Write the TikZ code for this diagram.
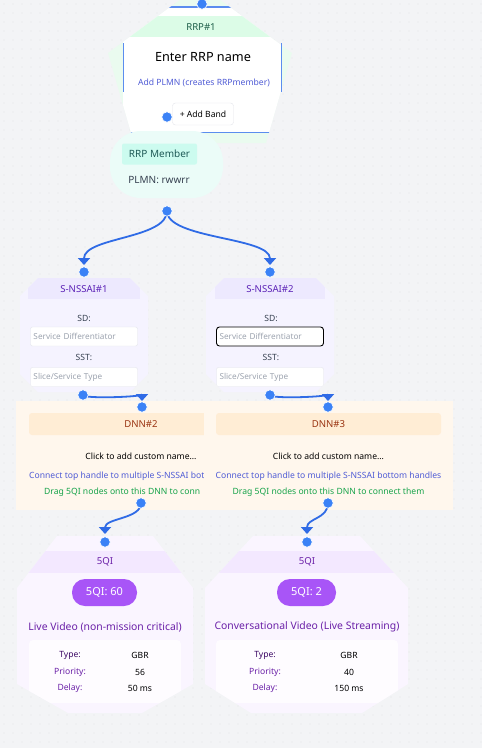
\documentclass[tikz,border=0pt]{standalone}
\usepackage{fontspec}
\setmainfont{Noto Sans}
\usetikzlibrary{arrows.meta}

\definecolor{bgcol}{HTML}{F3F4F6}
\definecolor{dotcol}{HTML}{E2E4E9}
\definecolor{edgeblue}{HTML}{2F6BE6}
\definecolor{handleblue}{HTML}{3B82F6}
\definecolor{rrpout}{HTML}{EAFBEF}
\definecolor{rrphead}{HTML}{DCFCE7}
\definecolor{rrptext}{HTML}{1F5F4A}
\definecolor{cardblue}{HTML}{5B8DEF}
\definecolor{linkblue}{HTML}{4F5BD5}
\definecolor{memberbg}{HTML}{EBFCF8}
\definecolor{memberhead}{HTML}{CCFBEF}
\definecolor{membertext}{HTML}{1E5A57}
\definecolor{graytext}{HTML}{374151}
\definecolor{nssaibg}{HTML}{F5F3FF}
\definecolor{nssaihead}{HTML}{EDE9FE}
\definecolor{nssaitext}{HTML}{5B21B6}
\definecolor{inputline}{HTML}{E3E5EA}
\definecolor{placeholder}{HTML}{9CA3AF}
\definecolor{dnnbg}{HTML}{FFF7ED}
\definecolor{dnnhead}{HTML}{FFEDD5}
\definecolor{dnntext}{HTML}{9A3412}
\definecolor{dragtext}{HTML}{16A34A}
\definecolor{fqibg}{HTML}{FAF5FF}
\definecolor{fqihead}{HTML}{F3E8FF}
\definecolor{fqipill}{HTML}{A855F7}
\definecolor{fqitext}{HTML}{6B21A8}
\definecolor{fqicard}{HTML}{FEFCFF}
\definecolor{typetext}{HTML}{3B0764}

\tikzset{
  fsmall/.style={font=\fontsize{8.6}{10}\selectfont},
  fnorm/.style={font=\fontsize{10}{12}\selectfont},
  fhead/.style={font=\fontsize{9.6}{11}\selectfont},
  ftitle/.style={font=\fontsize{10.4}{12}\selectfont},
  handle/.style={circle, fill=handleblue, draw=white, line width=0.7pt, inner sep=0pt, minimum size=10.5pt},
  edge/.style={draw=edgeblue, line width=1.8pt, -{Triangle[width=12pt,length=7pt]}},
  inputbox/.style={draw=inputline, fill=white, rounded corners=2pt, minimum height=19pt,
    text width=101pt, inner xsep=3pt, align=left, text=placeholder, font=\fontsize{8.2}{10}\selectfont},
}

\begin{document}
\begin{tikzpicture}[x=1pt, y=-1pt]
    \useasboundingbox (0,0) rectangle (482,748);
    \clip (0,0) rectangle (482,748);

    % background with dot grid
    \fill[bgcol] (0,0) rectangle (482,748);
    \foreach \x in {4,13,...,482}
        \foreach \y in {4,13,...,748}
            \fill[dotcol] (\x,\y) circle (0.6);

    % RRP#1 pentagon
    \fill[rrpout] (200,-15) -- (292,53) -- (266,143) -- (134,143) -- (108,53) -- cycle;
    \begin{scope}
        \clip (200,-15) -- (292,53) -- (266,143) -- (134,143) -- (108,53) -- cycle;
        \fill[white] (123,7) rectangle (282,133);
        \fill[rrphead] (123,16) rectangle (282,37);
        \draw[cardblue, line width=1.5pt] (123,7) -- (282,7);
        \draw[cardblue, line width=1.5pt] (123,132.5) -- (282,132.5);
    \end{scope}
    \draw[cardblue, line width=1.5pt] (123.5,43) -- (123.5,92);
    \draw[cardblue, line width=1.5pt] (281.5,43) -- (281.5,92);
    \node[rrptext, fhead] (rrp) at (201,27) {RRP\#1};
    \node[font=\fontsize{12.7}{15}\selectfont] (rrpname) at (203,57) {Enter RRP name};
    \node[linkblue, fsmall] (plmn) at (204,83) {Add PLMN (creates RRPmember)};
    \node[draw=inputline, fill=white, rounded corners=3pt, minimum width=61pt, minimum height=22pt, fsmall] (band) at (203,114) {+ Add Band};

    % RRP member blob
    \node[fill=memberbg, rounded corners=31pt, minimum width=113pt, minimum height=67pt] (member) at (166.5,164.5) {};
    \node[fill=memberhead, rounded corners=2pt, minimum width=75pt, minimum height=21pt, text=membertext, fnorm] (memberhd) at (159.5,154) {RRP Member};
    \node[graytext, fnorm] (memberplmn) at (159,180) {PLMN: rwwrr};

    % S-NSSAI#1
    \fill[nssaibg] (38,278) -- (130,278) -- (148,296) -- (148,374) -- (130,392) -- (38,392) -- (20,374) -- (20,296) -- cycle;
    \begin{scope}
        \clip (38,278) -- (130,278) -- (148,296) -- (148,374) -- (130,392) -- (38,392) -- (20,374) -- (20,296) -- cycle;
        \fill[nssaihead] (28,278) rectangle (140,299);
        \node[inputbox] (sdA) at (84,336.5) {Service Differentiator};
        \node[inputbox] (sstA) at (84,377) {Slice/Service Type};
    \end{scope}
    \node[nssaitext, fhead] (nssaiA) at (84,289) {S-NSSAI\#1};
    \node[graytext, fsmall] (sdlabA) at (84,318) {SD:};
    \node[graytext, fsmall] (sstlabA) at (84,357) {SST:};

    % S-NSSAI#2
    \fill[nssaibg] (224,278) -- (316,278) -- (334,296) -- (334,374) -- (316,392) -- (224,392) -- (206,374) -- (206,296) -- cycle;
    \begin{scope}
        \clip (224,278) -- (316,278) -- (334,296) -- (334,374) -- (316,392) -- (224,392) -- (206,374) -- (206,296) -- cycle;
        \fill[nssaihead] (215,278) rectangle (325,299);
        \node[inputbox, draw=black, line width=0.9pt, rounded corners=3pt] (sdB) at (270,336.5) {Service Differentiator};
        \node[inputbox] (sstB) at (270,377) {Slice/Service Type};
    \end{scope}
    \node[nssaitext, fhead] (nssaiB) at (270,289) {S-NSSAI\#2};
    \node[graytext, fsmall] (sdlabB) at (271,318) {SD:};
    \node[graytext, fsmall] (sstlabB) at (271,357) {SST:};

    % DNN#2 (cut off by DNN#3)
    \fill[dnnbg] (16,401) rectangle (266,510);
    \node[fill=dnnhead, rounded corners=3pt, minimum width=224pt, minimum height=22pt, text=dnntext, fhead] (dnnA) at (141,424) {DNN\#2};
    \node[fsmall] (nameA) at (141,456) {Click to add custom name...};
    \node[linkblue, fsmall, anchor=west, inner xsep=0pt] (hintA) at (29,476) {Connect top handle to multiple S-NSSAI bot};
    \node[dragtext, fsmall, anchor=west, inner xsep=0pt] (dragA) at (44,492) {Drag 5QI nodes onto this DNN to conn};

    % DNN#3
    \fill[dnnbg] (204,401) rectangle (453,510);
    \node[fill=dnnhead, rounded corners=3pt, minimum width=225pt, minimum height=22pt, text=dnntext, fhead] (dnnB) at (328.5,424) {DNN\#3};
    \node[fsmall] (nameB) at (328.5,456) {Click to add custom name...};
    \node[linkblue, fsmall] (hintB) at (328.5,476) {Connect top handle to multiple S-NSSAI bottom handles};
    \node[dragtext, fsmall] (dragB) at (328.5,492) {Drag 5QI nodes onto this DNN to connect them};

    % 5QI 60
    \fill[fqibg] (57,536) -- (153,536) -- (193,588) -- (193,684) -- (142,713) -- (68,713) -- (17,684) -- (17,588) -- cycle;
    \begin{scope}
        \clip (57,536) -- (153,536) -- (193,588) -- (193,684) -- (142,713) -- (68,713) -- (17,684) -- (17,588) -- cycle;
        \fill[fqihead] (25,551) rectangle (185,573);
        \fill[fqicard, rounded corners=4pt] (29,640) rectangle (181,703);
    \end{scope}
    \node[fqitext, fhead] (fqiA) at (105,562) {5QI};
    \node[fill=fqipill, rounded corners=13pt, minimum width=65pt, minimum height=27pt, text=white, font=\fontsize{11}{13}\selectfont\bfseries] (pillA) at (104.5,592.5) {5QI: 60};
    \node[fqitext, ftitle] (titleA) at (105,627) {Live Video (non-mission critical)};
    \node[typetext, fsmall] at (70,655) {Type:};
    \node[fsmall] at (140,655) {GBR};
    \node[fqitext, fsmall] at (70,672) {Priority:};
    \node[fsmall] at (140,672) {56};
    \node[fqitext, fsmall] at (70,688) {Delay:};
    \node[fsmall] at (140,688) {50 ms};

    % 5QI 2
    \fill[fqibg] (253,536) -- (360,536) -- (408,588) -- (408,684) -- (362,713) -- (251,713) -- (205,684) -- (205,588) -- cycle;
    \begin{scope}
        \clip (253,536) -- (360,536) -- (408,588) -- (408,684) -- (362,713) -- (251,713) -- (205,684) -- (205,588) -- cycle;
        \fill[fqihead] (213,551) rectangle (400,573);
        \fill[fqicard, rounded corners=4pt] (216,640) rectangle (398,703);
    \end{scope}
    \node[fqitext, fhead] (fqiB) at (307,562) {5QI};
    \node[fill=fqipill, rounded corners=13pt, minimum width=59pt, minimum height=27pt, text=white, font=\fontsize{11}{13}\selectfont\bfseries] (pillB) at (306.5,592.5) {5QI: 2};
    \node[fqitext, ftitle] (titleB) at (307,627) {Conversational Video (Live Streaming)};
    \node[typetext, fsmall] at (265,655) {Type:};
    \node[fsmall] at (349,655) {GBR};
    \node[fqitext, fsmall] at (265,672) {Priority:};
    \node[fsmall] at (349,672) {40};
    \node[fqitext, fsmall] at (265,688) {Delay:};
    \node[fsmall] at (349,688) {150 ms};

    % handle positions
    \coordinate (rrp-in) at (202,4);
    \coordinate (rrp-out) at (167,117);
    \coordinate (member-out) at (167,211);
    \coordinate (nssaiA-in) at (84,265);
    \coordinate (nssaiB-in) at (270,265);
    \coordinate (nssaiA-top) at (84,272);
    \coordinate (nssaiB-top) at (270,272);
    \coordinate (nssaiA-out) at (83,395);
    \coordinate (nssaiB-out) at (270,395);
    \coordinate (dnnA-in) at (142,401);
    \coordinate (dnnB-in) at (328,401);
    \coordinate (dnnA-top) at (142,407);
    \coordinate (dnnB-top) at (328,407);
    \coordinate (dnnA-out) at (141,503);
    \coordinate (dnnB-out) at (328,503);
    \coordinate (fqiA-in) at (105,534);
    \coordinate (fqiB-in) at (307,534);
    \coordinate (fqiA-top) at (105,542);
    \coordinate (fqiB-top) at (307,542);

    % edges
    \draw[edge] (member-out) .. controls +(0,28) and +(0,-28) .. (nssaiA-in);
    \draw[edge] (member-out) .. controls +(0,28) and +(0,-28) .. (nssaiB-in);
    \draw[edge] (nssaiA-out) .. controls +(0,4) and +(0,-4) .. (dnnA-in);
    \draw[edge] (nssaiB-out) .. controls +(0,4) and +(0,-4) .. (dnnB-in);
    \draw[edge] (dnnA-out) .. controls +(0,16) and +(0,-16) .. (fqiA-in);
    \draw[edge] (dnnB-out) .. controls +(0,16) and +(0,-16) .. (fqiB-in);

    % handles
    \foreach \h in {rrp-in, rrp-out, member-out, nssaiA-top, nssaiB-top, nssaiA-out, nssaiB-out,
                    dnnA-top, dnnB-top, dnnA-out, dnnB-out, fqiA-top, fqiB-top}
        \node[handle] at (\h) {};
\end{tikzpicture}
\end{document}
